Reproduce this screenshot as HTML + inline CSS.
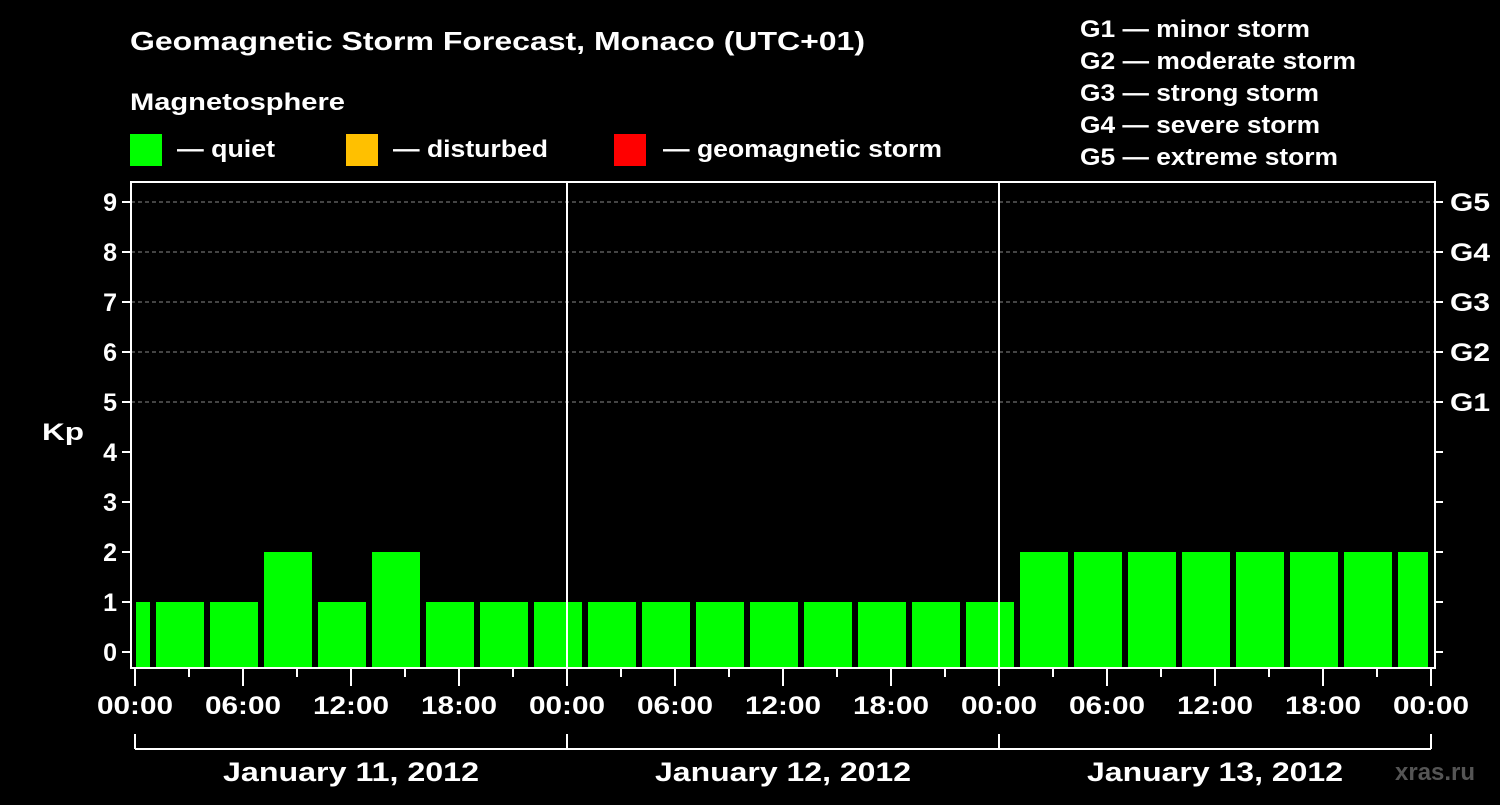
<!DOCTYPE html>
<html><head><meta charset="utf-8"><style>
body{margin:0;background:#000;width:1500px;height:800px;overflow:hidden}
svg text{font-family:"Liberation Sans",Arial,sans-serif;font-weight:bold;fill:#fff}
</style></head><body>
<svg id="c" width="1500" height="800">
<text x="130" y="50" font-size="26" textLength="735" lengthAdjust="spacingAndGlyphs">Geomagnetic Storm Forecast, Monaco (UTC+01)</text>
<text x="130" y="110" font-size="24" textLength="215" lengthAdjust="spacingAndGlyphs">Magnetosphere</text>
<rect x="130" y="134" width="32" height="32" fill="#00ff00"/>
<text x="177" y="157" font-size="24" textLength="98" lengthAdjust="spacingAndGlyphs">— quiet</text>
<rect x="346" y="134" width="32" height="32" fill="#ffc000"/>
<text x="393" y="157" font-size="24" textLength="155" lengthAdjust="spacingAndGlyphs">— disturbed</text>
<rect x="614" y="134" width="32" height="32" fill="#ff0000"/>
<text x="663" y="157" font-size="24" textLength="279" lengthAdjust="spacingAndGlyphs">— geomagnetic storm</text>
<g font-size="24">
<text x="1080" y="37" textLength="230" lengthAdjust="spacingAndGlyphs">G1 — minor storm</text>
<text x="1080" y="69" textLength="276" lengthAdjust="spacingAndGlyphs">G2 — moderate storm</text>
<text x="1080" y="101" textLength="239" lengthAdjust="spacingAndGlyphs">G3 — strong storm</text>
<text x="1080" y="133" textLength="240" lengthAdjust="spacingAndGlyphs">G4 — severe storm</text>
<text x="1080" y="165" textLength="258" lengthAdjust="spacingAndGlyphs">G5 — extreme storm</text>
</g>
<text x="42" y="440" font-size="24" textLength="42" lengthAdjust="spacingAndGlyphs">Kp</text>
<text x="1395" y="780" font-size="24" style="fill:#555">xras.ru</text>
<g id="g"></g>
</svg>
<script>
const kpValues=[1,1,1,2,1,2,1,1,1,1,1,1,1,1,1,1,1,2,2,2,2,2,2,2,2];
const gLabels=["G1","G2","G3","G4","G5"];
const xTickLabels=["00:00","06:00","12:00","18:00","00:00","06:00","12:00","18:00","00:00","06:00","12:00","18:00","00:00"];
const dayLabels=["January 11, 2012","January 12, 2012","January 13, 2012"];
const NS="http://www.w3.org/2000/svg";
const gRoot=document.getElementById('g');
const x0=135,pxH=18,y0=652,pxK=50,plotTop=182,plotBot=668,L=131,R=1435;
const X=h=>x0+h*pxH, Y=k=>y0-k*pxK;
function mk(t,a){const e=document.createElementNS(NS,t);for(const k in a)e.setAttribute(k,a[k]);gRoot.appendChild(e);return e;}
for(let k=5;k<=9;k++){const e=mk('line',{x1:L,x2:R,y1:Y(k),y2:Y(k),stroke:'#888','stroke-dasharray':'4,3'});

}
kpValues.forEach((v,i)=>{let s=-2+3*i,e=s+3;let xs=X(s)+3,xe=X(e)-3;xs=Math.max(xs,X(0)+1);xe=Math.min(xe,X(72)-3);
const r=mk('rect',{x:xs,y:Y(v),width:xe-xs,height:plotBot-Y(v),fill:v>=5?'#ff0000':v>=4?'#ffc000':'#00ff00'});

});
[1,2].forEach(d=>{const e=mk('line',{x1:X(24*d),x2:X(24*d),y1:plotTop,y2:plotBot,stroke:'#fff','stroke-width':2});

});
const fr=mk('rect',{x:L,y:plotTop,width:R-L,height:plotBot-plotTop,fill:'none',stroke:'#fff','stroke-width':2});


for(let k=0;k<=9;k++){mk('line',{x1:L-9,x2:L,y1:Y(k),y2:Y(k),stroke:'#fff','stroke-width':2});
mk('line',{x1:R,x2:R+8,y1:Y(k),y2:Y(k),stroke:'#fff','stroke-width':2});
const t=mk('text',{x:L-14,y:Y(k)+9,'font-size':25,'text-anchor':'end'});t.textContent=k;

}
gLabels.forEach((s,i)=>{const t=mk('text',{x:1450,y:Y(5+i)+9,'font-size':25,textLength:40,lengthAdjust:'spacingAndGlyphs'});t.textContent=s;

});
for(let h=0;h<=72;h+=3){mk('line',{x1:X(h),x2:X(h),y1:plotBot,y2:plotBot+(h%6?9:18),stroke:'#fff','stroke-width':2});}
xTickLabels.forEach((s,i)=>{const t=mk('text',{x:X(6*i),y:714,'font-size':25,'text-anchor':'middle',textLength:76,lengthAdjust:'spacingAndGlyphs'});t.textContent=s;

});
mk('line',{x1:X(0),x2:X(72),y1:749,y2:749,stroke:'#fff','stroke-width':2});
for(let d=0;d<=3;d++)mk('line',{x1:X(24*d),x2:X(24*d),y1:734,y2:749,stroke:'#fff','stroke-width':2});
dayLabels.forEach((s,i)=>{const t=mk('text',{x:X(24*i+12),y:781,'font-size':27,'text-anchor':'middle',textLength:256,lengthAdjust:'spacingAndGlyphs'});t.textContent=s;

});
</script>
</body></html>
